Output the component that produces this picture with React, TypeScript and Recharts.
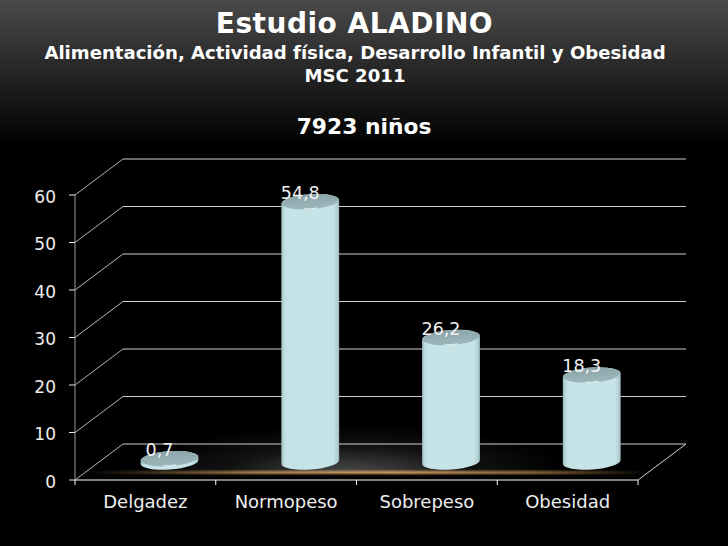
import React from 'react';
import { BarChart, Bar, XAxis, YAxis, CartesianGrid, LabelList } from 'recharts';

const categories = ['Delgadez', 'Normopeso', 'Sobrepeso', 'Obesidad'];
const percentages = [0.7, 54.8, 26.2, 18.3];
const yTicks = [0, 10, 20, 30, 40, 50, 60];
const titleLines = ['Alimentación, Actividad física, Desarrollo Infantil y Obesidad', 'MSC 2011'];

const data = categories.map((name, i) => ({ name, value: percentages[i] }));

const FONT = '"DejaVu Sans", Verdana, sans-serif';
// fake 3D depth of the chart box, in px
const DEPTH_X = 48;
const DEPTH_Y = 36;
const PLOT_W = 563;
const BAND = PLOT_W / categories.length;
const TILT = -4;

const GridLine = ({ x1, x2, y1, index }: any) => (
  <g key={index} fill="none">
    <line x1={x1 + DEPTH_X} x2={x2 + DEPTH_X} y1={y1 - DEPTH_Y} y2={y1 - DEPTH_Y} stroke="#cfcfcf" />
    <line x1={x1} x2={x1 + DEPTH_X} y1={y1} y2={y1 - DEPTH_Y} stroke="#b5b5b5" />
    {y1 === 480 && <line x1={x2} x2={x2 + DEPTH_X} y1={y1} y2={y1 - DEPTH_Y} stroke="#d5d5d5" />}
  </g>
);

const Cylinder = ({ x, y, width, height }: any) => {
  const rx = width / 2;
  const ry = 7.5;
  const cx = x + rx + DEPTH_X / 2 + 0.5;
  const top = y - DEPTH_Y / 2;
  const base = top + height;
  const dx = rx * Math.cos((TILT * Math.PI) / 180);
  const dy = rx * Math.sin((TILT * Math.PI) / 180);
  const body = `M${cx - dx},${top - dy} L${cx - dx},${base - dy} A${rx},${ry} ${TILT} 0 0 ${cx + dx},${base + dy} L${cx + dx},${top + dy} A${rx},${ry} ${TILT} 0 0 ${cx - dx},${top - dy} Z`;
  return (
    <g>
      <path d={body} fill="url(#cylBody)" />
      <ellipse cx={cx} cy={top} rx={rx - 0.5} ry={ry} fill="url(#cylCap)" transform={`rotate(${TILT} ${cx} ${top})`} />
      <path
        d={`M${cx - 6},${top + 7.3} Q${cx},${top + 7.8} ${cx + 6},${top + 6.3}`}
        fill="none"
        stroke="#eaf7f8"
        strokeWidth={1}
        strokeLinecap="round"
      />
    </g>
  );
};

const ValueLabel = ({ x, y, width, value }: any) => (
  <text
    x={x + width / 2 + DEPTH_X / 2 - 9.5}
    y={y - 21}
    textAnchor="middle"
    fill="#f2f2f2"
    fontFamily={FONT}
    fontSize={17.5}
  >
    {String(value).replace('.', ',')}
  </text>
);

const CategoryTick = ({ x, payload, index }: any) => (
  <g>
    <line x1={x - BAND / 2} x2={x - BAND / 2} y1={480} y2={485} stroke="#fff" />
    {index === categories.length - 1 && <line x1={x + BAND / 2} x2={x + BAND / 2} y1={480} y2={485} stroke="#fff" />}
    <text x={x} y={508} textAnchor="middle" fill="#eeeeee" fontFamily={FONT} fontSize={18}>
      {payload.value}
    </text>
  </g>
);

export default function App() {
  return (
    <div
      style={{
        position: 'absolute',
        left: 0,
        top: 0,
        width: 728,
        height: 546,
        overflow: 'hidden',
        fontFamily: FONT,
        color: '#fff',
        background: 'linear-gradient(180deg, #4a4a4a 0px, #000 145px)',
      }}
    >
      {/* floor glow + orange streak */}
      <div style={{ position: 'absolute', left: 70, top: 415, width: 600, height: 58, overflow: 'hidden' }}>
        <div
          style={{
            position: 'absolute',
            left: 60,
            top: 10,
            width: 440,
            height: 96,
            background: 'radial-gradient(closest-side, rgba(88,88,88,0.85), rgba(40,40,40,0.45) 55%, rgba(0,0,0,0) 100%)',
          }}
        />
      </div>
      <div
        style={{
          position: 'absolute',
          left: 85,
          top: 471,
          width: 565,
          height: 3,
          background: 'linear-gradient(90deg, rgba(190,140,80,0), rgba(200,150,90,0.9) 30%, rgba(215,165,100,1) 55%, rgba(190,140,80,0.8) 80%, rgba(190,140,80,0))',
          filter: 'blur(0.9px)',
        }}
      />

      <div style={{ position: 'absolute', left: 0, top: 8, width: 709, textAlign: 'center', fontWeight: 'bold', fontSize: 28, lineHeight: '32px', letterSpacing: 0.5 }}>
        Estudio ALADINO
      </div>
      {titleLines.map((line, i) => (
        <div
          key={line}
          style={{
            position: 'absolute',
            left: 0,
            top: 41 + i * 23,
            width: 710,
            textAlign: 'center',
            fontWeight: 'bold',
            fontSize: 18.1,
            lineHeight: '23px',
            whiteSpace: 'nowrap',
          }}
        >
          {line}
        </div>
      ))}
      <div style={{ position: 'absolute', left: 0, top: 113, width: 728, textAlign: 'center', fontWeight: 'bold', fontSize: 21.8, lineHeight: '28px' }}>
        7923 niños
      </div>

      <div style={{ position: 'absolute', left: 0, top: 0 }}>
        <BarChart
          width={728}
          height={546}
          data={data}
          margin={{ top: 195, right: 90, bottom: 0, left: 0 }}
          barSize={58}
          style={{ overflow: 'visible' }}
        >
          <defs>
            <linearGradient id="cylBody" x1="0" y1="0" x2="1" y2="0">
              <stop offset="0" stopColor="#95b3b8" />
              <stop offset="0.04" stopColor="#bcdade" />
              <stop offset="0.1" stopColor="#c6e4e8" />
              <stop offset="0.9" stopColor="#c6e4e8" />
              <stop offset="0.97" stopColor="#b0cfd3" />
              <stop offset="1" stopColor="#92b0b4" />
            </linearGradient>
            <linearGradient id="cylCap" x1="0" y1="0" x2="0" y2="1">
              <stop offset="0" stopColor="#8ba4a9" />
              <stop offset="1" stopColor="#9db8bc" />
            </linearGradient>
          </defs>
          <CartesianGrid vertical={false} horizontal={GridLine as any} syncWithTicks />
          <XAxis
            dataKey="name"
            height={66}
            interval={0}
            tickLine={false}
            axisLine={{ stroke: '#ffffff' }}
            tick={CategoryTick as any}
          />
          <YAxis
            width={75}
            domain={[0, 60]}
            ticks={yTicks}
            interval={0}
            tickSize={6}
            tickMargin={13}
            axisLine={{ stroke: '#999999' }}
            tickLine={{ stroke: '#e8e8e8' }}
            tick={{ fill: '#eeeeee', fontFamily: FONT, fontSize: 17, dy: 1.5 }}
          />
          <Bar dataKey="value" isAnimationActive={false} shape={Cylinder as any}>
            <LabelList dataKey="value" content={ValueLabel as any} />
          </Bar>
        </BarChart>
      </div>
    </div>
  );
}
